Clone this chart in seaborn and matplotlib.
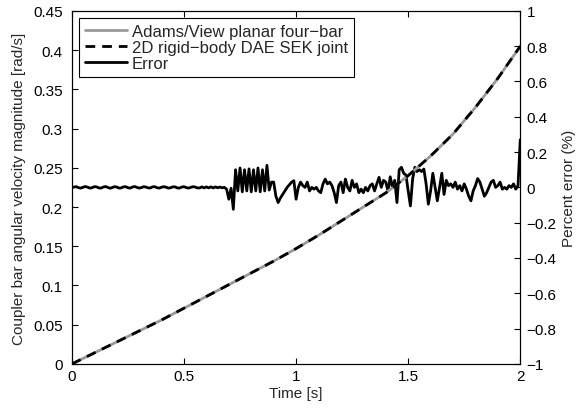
import numpy as np
import pandas as pd
import matplotlib
matplotlib.use("Agg")
import matplotlib.pyplot as plt
import seaborn as sns

# --- data ---
# coupler bar angular velocity [rad/s], sampled every 0.1 s from 0 to 2 s
vel_adams = [0.000, 0.014, 0.028, 0.042, 0.056, 0.071, 0.086, 0.101, 0.116, 0.131,
             0.147, 0.164, 0.182, 0.200, 0.218, 0.240, 0.265, 0.293, 0.327, 0.364, 0.405]
vel_dae = [0.000, 0.014, 0.028, 0.042, 0.056, 0.071, 0.086, 0.101, 0.116, 0.131,
           0.147, 0.164, 0.182, 0.200, 0.218, 0.240, 0.265, 0.293, 0.327, 0.364, 0.405]

# percent error, sampled every 0.01 s from 0 to 2 s
err_flat = [0.0, 0.002, 0.004, -0.002, -0.004, 0.001, 0.005, 0.001, -0.004, -0.002,
            0.004, 0.003, -0.003, -0.004, 0.002, 0.005, 0.000, -0.005, -0.001, 0.004,
            0.002, -0.004, -0.003, 0.003, 0.004, -0.002, -0.004, 0.002, 0.005, 0.000,
            -0.004, -0.001, 0.004, 0.002, -0.003, -0.003, 0.003, 0.004, -0.002, -0.004,
            0.001, 0.004, 0.001, -0.004, -0.002, 0.003, 0.003, -0.003, -0.004, 0.002,
            0.004, -0.001, -0.004, 0.000, 0.004, 0.002, -0.003, -0.003, 0.003, -0.003,
            0.003, -0.003, 0.003, -0.003, 0.003, -0.002, 0.002, -0.002, 0.000]
err_burst = [-0.010, -0.067, -0.005, -0.124, 0.100, -0.020, 0.110, -0.025, 0.100, -0.020,
             0.105, -0.025, 0.100, -0.020, 0.110, -0.025, 0.100, -0.020, 0.125, -0.015,
             0.030, 0.030, -0.050, -0.086, -0.060, -0.040, -0.020, 0.000, 0.015, 0.030,
             0.038]
err_tail = [-0.067, 0.000, 0.030, 0.010, 0.000, 0.030, -0.020, 0.000, -0.010, 0.000,
            -0.020, -0.030, 0.020, 0.047, 0.020, 0.030, 0.010, -0.030, -0.086, 0.010,
            0.030, -0.030, 0.047, 0.000, -0.020, 0.040, 0.000, 0.020, -0.030, -0.010,
            -0.030, 0.000, -0.020, 0.010, 0.020, -0.020, 0.020, 0.057, 0.000, 0.040,
            0.030, -0.020, 0.060, 0.000, 0.040, -0.086, 0.100, 0.114, 0.080, 0.070,
            -0.020, -0.105, 0.050, 0.114, 0.090, 0.100, 0.090, 0.104, 0.020, -0.095,
            -0.020, 0.080, 0.000, -0.076, 0.000, 0.080, -0.040, 0.040, 0.010, 0.020,
            0.000, 0.030, -0.010, 0.010, -0.020, 0.020, -0.010, -0.050, -0.076, -0.020,
            0.010, 0.050, 0.030, -0.010, -0.050, -0.030, 0.000, 0.030, 0.040, 0.000,
            0.010, 0.030, -0.010, 0.000, -0.010, 0.010, 0.000, 0.020, -0.010, 0.010,
            0.270]
err = err_flat + err_burst + err_tail

t_vel = np.linspace(0, 2, len(vel_adams))
t_err = np.linspace(0, 2, len(err))

df_vel = pd.DataFrame({"t": t_vel, "adams": vel_adams, "dae": vel_dae})
df_err = pd.DataFrame({"t": t_err, "err": err})

sns.set_style("white")
plt.rcParams["font.family"] = ["Liberation Sans", "DejaVu Sans"]
plt.rcParams["font.size"] = 11

fig = plt.figure(figsize=(5.8, 4.1), dpi=100)
ax = fig.add_axes([0.124, 0.110, 0.773, 0.861])

sns.lineplot(data=df_vel, x="t", y="adams", ax=ax, color="#999999", lw=2,
             label="Adams/View planar four\u2212bar")
sns.lineplot(data=df_vel, x="t", y="dae", ax=ax, color="black", lw=2,
             linestyle=(0, (3.5, 2.5)), label="2D rigid\u2212body DAE SEK joint")

ax2 = ax.twinx()
sns.lineplot(data=df_err, x="t", y="err", ax=ax2, color="black", lw=2, label="Error")

ax.set_xlim(0, 2)
ax.set_ylim(0, 0.45)
ax2.set_ylim(-1, 1)
ax.set_xticks([0, 0.5, 1, 1.5, 2])
ax.set_xticklabels(["0", "0.5", "1", "1.5", "2"])
ax.set_yticks(np.arange(0, 0.451, 0.05))
ax.set_yticklabels(["0", "0.05", "0.1", "0.15", "0.2", "0.25", "0.3", "0.35", "0.4", "0.45"])
ax2.set_yticks(np.arange(-1, 1.01, 0.2))
ax2.set_yticklabels(["\u22121", "\u22120.8", "\u22120.6", "\u22120.4", "\u22120.2", "0",
                     "0.2", "0.4", "0.6", "0.8", "1"])

ax.set_xlabel("Time [s]", labelpad=2)
ax.set_ylabel("Coupler bar angular velocity magnitude [rad/s]", labelpad=5)
ax2.set_ylabel("Percent error (%)", labelpad=4)

for a in (ax, ax2):
    for s in a.spines.values():
        s.set_color("black")
        s.set_linewidth(0.8)
ax.tick_params(axis="both", direction="in", length=4, width=0.8, colors="black",
               labelsize=11, top=True, bottom=True, left=True, right=False)
ax.tick_params(axis="y", pad=6.5)
ax.tick_params(axis="x", pad=3.5)
ax2.tick_params(axis="y", direction="in", length=4, width=0.8, colors="black",
                labelsize=11, right=True, left=False, pad=4.5)

h1, l1 = ax.get_legend_handles_labels()
h2, l2 = ax2.get_legend_handles_labels()
ax2.get_legend().remove()
ax.get_legend().remove()
leg = ax.legend(h1 + h2, l1 + l2, loc="upper left", frameon=True, fancybox=False,
                edgecolor="black", framealpha=1, fontsize=12, handlelength=2.5,
                borderpad=0.35, labelspacing=0.05, handletextpad=0.3,
                borderaxespad=0.45)
leg.get_frame().set_linewidth(0.8)
leg.set_zorder(10)
ax.set_zorder(ax2.get_zorder() + 1)
ax.patch.set_visible(False)

fig.savefig("out.png", dpi=100)
